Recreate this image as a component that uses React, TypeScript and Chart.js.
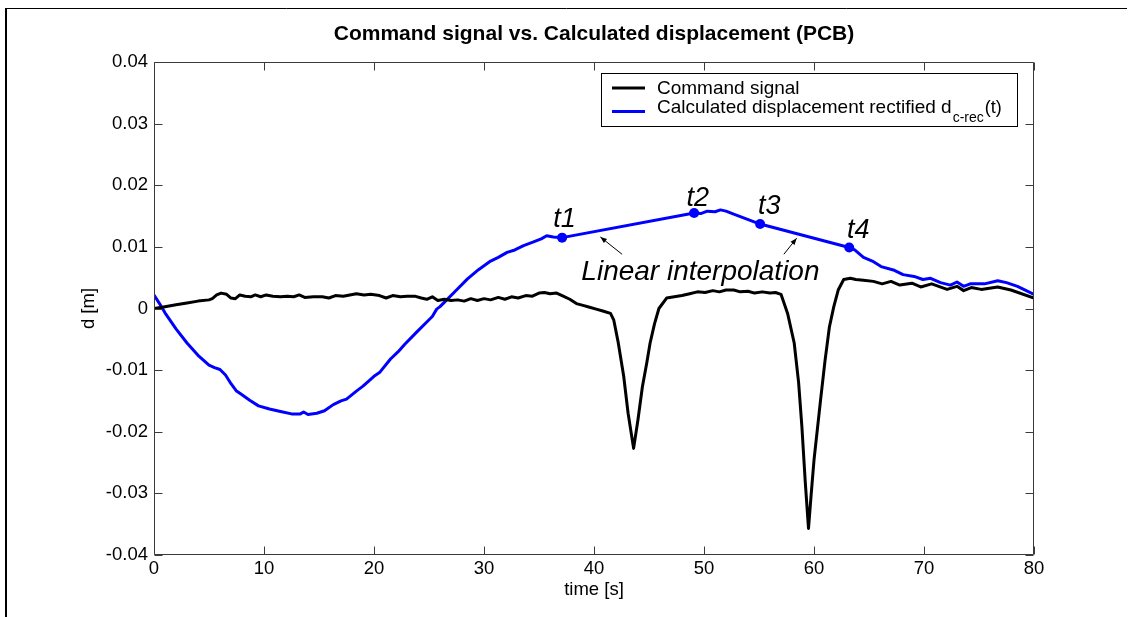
import React, { useEffect, useRef } from "react";
import { Chart, registerables } from "chart.js";

Chart.register(...registerables);

// ---------- data ----------
const commandTime = [
  0, 1, 2, 3, 4, 5, 5.3, 5.7, 6.1, 6.6, 7.0, 7.4, 7.8, 8.3, 8.8, 9.2, 9.7, 10.2, 10.8, 11.5,
  12.1, 12.7, 13.2, 13.7, 14.5, 15.3, 15.9, 16.5, 17.2, 17.8, 18.4, 19.1, 19.7, 20.5, 21.1,
  21.7, 22.4, 23.0, 23.7, 24.3, 24.8, 25.3, 25.8, 26.4, 27.0, 27.6, 28.2, 28.8, 29.4, 30.0,
  30.6, 31.3, 31.9, 32.5, 33.1, 33.8, 34.4, 35.0, 35.5, 36.0, 36.6, 37.2, 37.8, 38.4, 39.0,
  39.6, 40.2, 40.8, 41.5, 41.8, 42.2, 42.7, 43.1, 43.6, 44.0, 44.4, 44.8, 45.1, 45.5, 45.9,
  46.6, 47.3, 48.0, 48.7, 49.4, 50.1, 50.8, 51.4, 52.0, 52.7, 53.3, 54.0, 54.6, 55.3, 56.0,
  56.5, 57.0, 57.6, 58.2, 58.6, 58.9, 59.2, 59.5, 59.75, 60.0, 60.6, 61.0, 61.4, 61.8, 62.2,
  62.7, 63.3, 63.8, 64.5, 65.4, 66.2, 67.0, 67.8, 68.9, 69.7, 70.7, 72.1, 73.0, 73.6, 74.3,
  75.2, 76.7, 77.9, 80,
];
const commandValue = [
  0.0, 0.0003, 0.0006, 0.0009, 0.0012, 0.0014, 0.0016, 0.0022, 0.0025, 0.0023, 0.0017, 0.0016,
  0.0022, 0.002, 0.0019, 0.0022, 0.0019, 0.0022, 0.002, 0.0019, 0.002, 0.0019, 0.0022, 0.0018,
  0.0019, 0.0019, 0.0017, 0.0021, 0.002, 0.0022, 0.0024, 0.0022, 0.0023, 0.0021, 0.0017,
  0.0021, 0.0019, 0.002, 0.002, 0.0017, 0.0015, 0.0019, 0.0013, 0.0015, 0.0013, 0.0014,
  0.0012, 0.0016, 0.0013, 0.0016, 0.0014, 0.0018, 0.0015, 0.0019, 0.0017, 0.0021, 0.002,
  0.0025, 0.0026, 0.0024, 0.0025, 0.002, 0.0015, 0.0008, 0.0005, 0.0002, -0.0001, -0.0004,
  -0.0008, -0.0019, -0.0055, -0.011, -0.017, -0.0227, -0.018, -0.0127, -0.0088, -0.0056,
  -0.0025, 0.0, 0.0017, 0.0019, 0.0021, 0.0024, 0.0027, 0.0026, 0.0029, 0.0027, 0.003, 0.003,
  0.0027, 0.0028, 0.0025, 0.0027, 0.0025, 0.0026, 0.0023, -0.0008, -0.0056, -0.012, -0.0192,
  -0.028, -0.0357, -0.03, -0.0246, -0.0148, -0.0085, -0.003, 0.0003, 0.003, 0.0047, 0.0049,
  0.0047, 0.0046, 0.0044, 0.004, 0.0044, 0.0038, 0.0041, 0.0035, 0.004, 0.0031, 0.0036,
  0.0029, 0.0034, 0.0031, 0.0035, 0.003, 0.0017,
];

const dispTime = [
  0, 0.5, 1, 2, 3, 4, 5, 5.5, 6, 6.5, 7, 7.5, 8, 8.7, 9.5, 10.5, 11.5, 12.5, 13.3, 13.6, 14,
  14.8, 15.5, 16.3, 17, 17.5, 18.4, 19, 20, 20.5, 21.5, 22.2, 22.8, 23.9, 24.8, 25.3, 25.7,
  26.0, 26.5, 27.5, 28.5, 29.5, 30.6, 31.3, 32.1, 32.8, 33.6, 34.5, 35.2, 35.7, 36.3, 37.1,
  49.1, 49.7, 50.3, 51.0, 51.5, 52.0, 52.7, 53.3, 53.9, 54.5, 55.1, 63.2, 63.7, 64.5, 65.3,
  66.1, 67.3, 68.1, 69.1, 69.9, 70.6, 71.5, 72.4, 73.0, 73.6, 74.2, 75.5, 76.7, 77.5, 78.5, 80,
];
const dispValue = [
  0.0022, 0.0008, -0.0007, -0.0033, -0.0056, -0.0076, -0.0092, -0.0096, -0.0099, -0.0108,
  -0.0122, -0.0134, -0.014, -0.0149, -0.0158, -0.0163, -0.0167, -0.0171, -0.0171, -0.0168,
  -0.0172, -0.017, -0.0166, -0.0156, -0.015, -0.0147, -0.0134, -0.0126, -0.011, -0.0104,
  -0.0082, -0.007, -0.0058, -0.0038, -0.0022, -0.0013, -0.0001, 0.0003, 0.0012, 0.003, 0.0048,
  0.0063, 0.0077, 0.0083, 0.0091, 0.0095, 0.0102, 0.0108, 0.0113, 0.0118, 0.0116, 0.0115,
  0.0155, 0.0154, 0.0158, 0.0157, 0.016, 0.0158, 0.0153, 0.0149, 0.0145, 0.0141, 0.0137,
  0.0099, 0.0095, 0.0083, 0.0077, 0.0068, 0.0062, 0.0055, 0.0052, 0.0047, 0.0049, 0.0042,
  0.0038, 0.0043, 0.0036, 0.004, 0.004, 0.0045, 0.0042, 0.0036, 0.0023,
];

const markerTime = [37.1, 49.1, 55.1, 63.2];
const markerValue = [0.0115, 0.0155, 0.0137, 0.0099];
const markerLabels = ["t1", "t2", "t3", "t4"];
// label anchor (data units): left x, baseline y
const markerLabelTime = [36.3, 48.4, 54.9, 63.0];
const markerLabelValue = [0.0132, 0.0166, 0.0154, 0.0115];

const annotationText = "Linear interpolation";
const annotationTime = 38.85;
const annotationValue = 0.0047;
// arrows: [tailT, tailD, headT, headD]
const arrows = [
  [42.55, 0.0088, 40.58, 0.0116],
  [57.26, 0.0088, 58.42, 0.0114],
];

const xTicks = [0, 10, 20, 30, 40, 50, 60, 70, 80];
const yTicks = [-0.04, -0.03, -0.02, -0.01, 0, 0.01, 0.02, 0.03, 0.04];

const titleText = "Command signal vs. Calculated displacement (PCB)";
const xTitle = "time [s]";
const yTitle = "d [m]";
const legend1 = "Command signal";
const legend2Main = "Calculated displacement rectified d";
const legend2Sub = "c-rec";
const legend2Tail = "(t)";

const FONT = "'Liberation Sans', Arial, Helvetica, sans-serif";
const BLUE = "#0000ff";

function fmtTick(v: number): string {
  const r = Math.round(v * 100) / 100;
  return r === 0 ? "0" : String(r);
}

const decorPlugin = {
  id: "decor",
  beforeDraw(chart: any) {
    const { ctx, width, height } = chart;
    ctx.save();
    ctx.fillStyle = "#ffffff";
    ctx.fillRect(0, 0, width, height);
    ctx.restore();
  },
  afterDatasetsDraw(chart: any) {
    const { ctx, chartArea: a, scales } = chart;
    const x = scales.x;
    const y = scales.y;
    ctx.save();

    // figure frame (top + left)
    ctx.strokeStyle = "#000";
    ctx.lineWidth = 2;
    ctx.beginPath();
    ctx.moveTo(6, 617);
    ctx.lineTo(6, 8);
    ctx.stroke();
    ctx.lineWidth = 1;
    ctx.beginPath();
    ctx.moveTo(6, 8.5);
    ctx.lineTo(1127, 8.5);
    ctx.stroke();

    // axes box
    ctx.strokeStyle = "#3a3a3a";
    ctx.lineWidth = 1;
    const L = Math.round(a.left) + 0.5;
    const R = Math.round(a.right) - 0.5;
    const T = Math.round(a.top) + 0.5;
    const B = Math.round(a.bottom) - 0.5;
    ctx.beginPath();
    ctx.rect(L, T, R - L, B - T);
    ctx.stroke();

    // inward ticks
    const tl = 8;
    ctx.beginPath();
    xTicks.forEach((v) => {
      const px = Math.round(x.getPixelForValue(v)) + 0.5;
      ctx.moveTo(px, B);
      ctx.lineTo(px, B - tl);
      ctx.moveTo(px, T);
      ctx.lineTo(px, T + tl);
    });
    yTicks.forEach((v) => {
      const py = Math.round(y.getPixelForValue(v)) + 0.5;
      ctx.moveTo(L, py);
      ctx.lineTo(L + tl, py);
      ctx.moveTo(R, py);
      ctx.lineTo(R - tl, py);
    });
    ctx.stroke();

    // title
    ctx.fillStyle = "#000";
    ctx.font = `bold 21px ${FONT}`;
    ctx.textAlign = "center";
    ctx.textBaseline = "alphabetic";
    ctx.fillText(titleText, (a.left + a.right) / 2, a.top - 22);

    // legend
    const lx0 = a.right - 16.5;
    const lLeft = 601.5;
    const lTop = a.top + 11.5;
    ctx.fillStyle = "#fff";
    ctx.fillRect(lLeft, lTop, lx0 - lLeft, 53);
    ctx.strokeStyle = "#000";
    ctx.lineWidth = 1;
    ctx.strokeRect(lLeft, lTop, lx0 - lLeft, 53);
    ctx.lineWidth = 3;
    ctx.strokeStyle = "#000";
    ctx.beginPath();
    ctx.moveTo(612, lTop + 14.5);
    ctx.lineTo(645, lTop + 14.5);
    ctx.stroke();
    ctx.strokeStyle = BLUE;
    ctx.beginPath();
    ctx.moveTo(612, lTop + 38);
    ctx.lineTo(645, lTop + 38);
    ctx.stroke();
    ctx.fillStyle = "#000";
    ctx.textAlign = "left";
    ctx.font = `19px ${FONT}`;
    ctx.fillText(legend1, 657, lTop + 20.5);
    ctx.fillText(legend2Main, 657, lTop + 39);
    const w = ctx.measureText(legend2Main).width;
    ctx.font = `14px ${FONT}`;
    ctx.fillText(legend2Sub, 657 + w + 1, lTop + 48);
    const ws = ctx.measureText(legend2Sub).width;
    ctx.font = `18px ${FONT}`;
    ctx.fillText(legend2Tail, 657 + w + ws + 2, lTop + 39);

    // marker labels
    ctx.font = `italic 27px ${FONT}`;
    markerLabels.forEach((s, i) => {
      ctx.fillText(s, x.getPixelForValue(markerLabelTime[i]), y.getPixelForValue(markerLabelValue[i]));
    });
    ctx.font = `italic 28px ${FONT}`;
    ctx.fillText(annotationText, x.getPixelForValue(annotationTime), y.getPixelForValue(annotationValue));

    // arrows
    ctx.strokeStyle = "#000";
    ctx.fillStyle = "#000";
    ctx.lineWidth = 1;
    arrows.forEach(([t0, d0, t1, d1]) => {
      const x0 = x.getPixelForValue(t0);
      const y0 = y.getPixelForValue(d0);
      const x1 = x.getPixelForValue(t1);
      const y1 = y.getPixelForValue(d1);
      ctx.beginPath();
      ctx.moveTo(x0, y0);
      ctx.lineTo(x1, y1);
      ctx.stroke();
      const ang = Math.atan2(y1 - y0, x1 - x0);
      const hl = 7;
      const hw = 0.38;
      ctx.beginPath();
      ctx.moveTo(x1, y1);
      ctx.lineTo(x1 - hl * Math.cos(ang - hw), y1 - hl * Math.sin(ang - hw));
      ctx.lineTo(x1 - hl * Math.cos(ang + hw), y1 - hl * Math.sin(ang + hw));
      ctx.closePath();
      ctx.fill();
    });

    ctx.restore();
  },
};

export default function App() {
  const ref = useRef<HTMLCanvasElement | null>(null);

  useEffect(() => {
    if (!ref.current) return;
    const cmd = commandTime.map((t, i) => ({ x: t, y: commandValue[i] }));
    const disp = dispTime.map((t, i) => ({ x: t, y: dispValue[i] }));
    const marks = markerTime.map((t, i) => ({ x: t, y: markerValue[i] }));
    const tickFont = { family: FONT, size: 18.5, lineHeight: 1.2 };

    const chart = new Chart(ref.current, {
      type: "scatter",
      data: {
        datasets: [
          {
            label: legend1,
            data: cmd,
            showLine: true,
            borderColor: "#000",
            backgroundColor: "#000",
            borderWidth: 3,
            pointRadius: 0,
            borderJoinStyle: "round",
            borderCapStyle: "round",
          },
          {
            label: "Calculated displacement",
            data: disp,
            showLine: true,
            borderColor: BLUE,
            backgroundColor: BLUE,
            borderWidth: 3,
            pointRadius: 0,
            borderJoinStyle: "round",
            borderCapStyle: "round",
          },
          {
            label: "markers",
            data: marks,
            showLine: false,
            pointRadius: 5,
            pointBackgroundColor: BLUE,
            pointBorderColor: BLUE,
            borderWidth: 0,
          },
        ],
      },
      options: {
        responsive: false,
        animation: false,
        devicePixelRatio: 1,
        layout: { padding: { left: 0, top: 62, right: 99, bottom: 12 } },
        plugins: {
          legend: { display: false },
          title: { display: false },
          tooltip: { enabled: false },
        },
        events: [],
        scales: {
          x: {
            type: "linear",
            min: 0,
            max: 80,
            afterBuildTicks: (s: any) => {
              s.ticks = xTicks.map((v) => ({ value: v }));
            },
            afterFit: (s: any) => {
              s.height = 50;
            },
            grid: { display: false, drawTicks: false },
            border: { display: false },
            ticks: {
              color: "#000",
              font: tickFont,
              padding: 3,
              maxRotation: 0,
              autoSkip: false,
              callback: (v: any) => String(v),
            },
            title: {
              display: true,
              text: xTitle,
              color: "#000",
              font: tickFont,
              padding: { top: 0, bottom: 4 },
            },
          },
          y: {
            type: "linear",
            min: -0.04,
            max: 0.04,
            afterBuildTicks: (s: any) => {
              s.ticks = yTicks.map((v) => ({ value: v }));
            },
            afterFit: (s: any) => {
              s.width = 154;
            },
            grid: { display: false, drawTicks: false },
            border: { display: false },
            ticks: {
              color: "#000",
              font: tickFont,
              padding: 6,
              autoSkip: false,
              callback: (v: any) => fmtTick(Number(v)),
            },
            title: {
              display: true,
              text: yTitle,
              color: "#000",
              font: tickFont,
              padding: { top: 78, bottom: 0 },
            },
          },
        },
      },
      plugins: [decorPlugin],
    } as any);

    return () => chart.destroy();
  }, []);

  return (
    <div style={{ position: "fixed", left: 0, top: 0, width: 1133, height: 617, background: "#fff" }}>
      <canvas ref={ref} width={1133} height={617} style={{ display: "block", width: 1133, height: 617 }} />
    </div>
  );
}
